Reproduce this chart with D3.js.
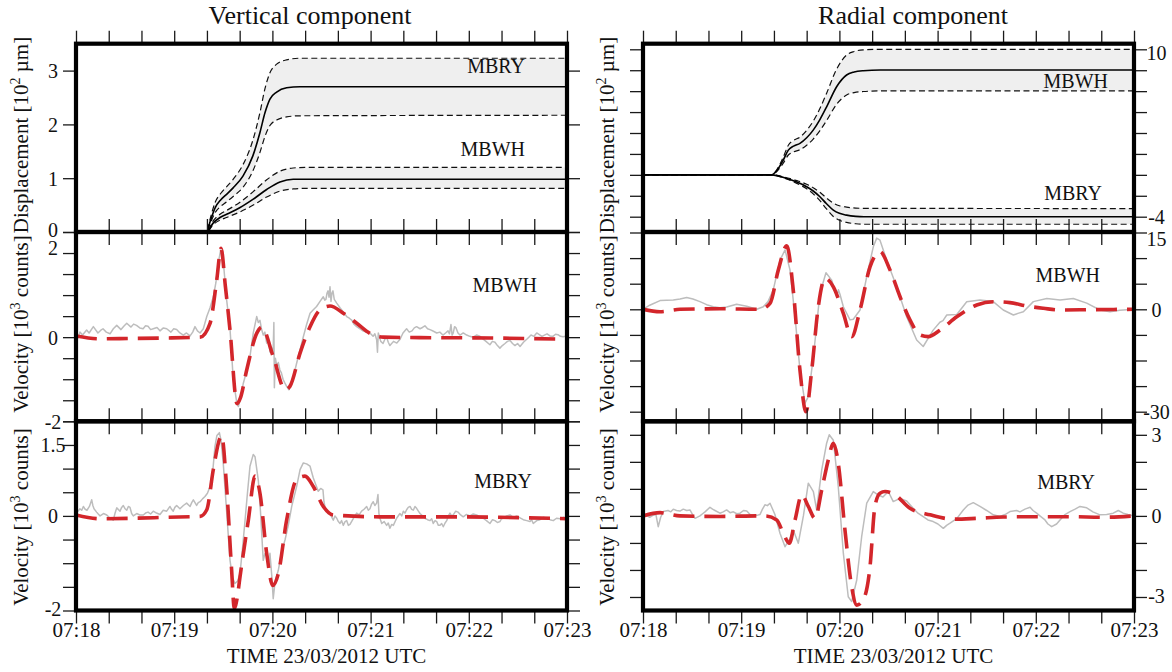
<!DOCTYPE html>
<html>
<head>
<meta charset="utf-8">
<script src="https://cdn.jsdelivr.net/npm/d3@7"></script>
<style>
  html, body { margin: 0; padding: 0; background: #fff; }
  svg { display: block; }
</style>
</head>
<body>
<svg id="fig" width="1172" height="672"></svg>
<script>
// ---------- time axis: seconds after 07:18:00 UTC ----------
const timeTickSeconds = d3.range(0, 301, 20);
const timeLabelSeconds = [0, 60, 120, 180, 240, 300];
const timeLabels = ["07:18", "07:19", "07:20", "07:21", "07:22", "07:23"];
const columnTitles = ["Vertical component", "Radial component"];
const timeTitle = "TIME 23/03/2012 UTC";

// ---------- y ticks and annotations ----------
const dispZTicks = [0, 1, 2, 3];
const dispZLabels = [0, 1, 2, 3];
const velZ_MBWH_Ticks = d3.range(-2, 2.51, 0.5);
const velZ_MBWH_Labels = [-2, 0, 2];
const velZ_MBRY_Ticks = d3.range(-2, 2.01, 0.5);
const velZ_MBRY_Labels = [-2, 0, 1.5];
const dispRTicks = d3.range(-4, 10.01, 1.75);
const dispRLabels = [-4, 10];
const velR_MBWH_Ticks = [-30, -22.5, -15, -7.5, 0, 5, 10, 15];
const velR_MBWH_Labels = [-30, 0, 15];
const velR_MBRY_Ticks = [-3, -2, -1, 0, 1, 2, 3];
const velR_MBRY_Labels = [-3, 0, 3];

// ---------- displacement, vertical component [10^2 um] ----------
const dispZ_MBRY_t  = [0, 79.8, 82, 85, 88.5, 92, 96, 102, 108, 112.4, 115.5, 118.5, 122.6, 128.7, 136.8, 300];
const dispZ_MBRY    = [0, 0, 0.20, 0.45, 0.60, 0.70, 0.82, 1.04, 1.41, 1.85, 2.22, 2.47, 2.60, 2.68, 2.70, 2.70];
const dispZ_MBRY_hi = [0, 0, 0.25, 0.55, 0.72, 0.84, 0.98, 1.25, 1.70, 2.22, 2.67, 2.96, 3.12, 3.20, 3.23, 3.23];
const dispZ_MBRY_lo = [0, 0, 0.16, 0.36, 0.48, 0.56, 0.66, 0.83, 1.13, 1.48, 1.78, 1.98, 2.08, 2.14, 2.16, 2.17];

const dispZ_MBWH_t  = [0, 79.8, 83.9, 88, 92, 100, 108.3, 116.5, 124.6, 132.7, 140, 300];
const dispZ_MBWH    = [0, 0, 0.17, 0.27, 0.33, 0.45, 0.61, 0.79, 0.93, 0.98, 0.98, 0.98];
const dispZ_MBWH_hi = [0, 0, 0.21, 0.33, 0.40, 0.55, 0.75, 0.97, 1.13, 1.19, 1.20, 1.20];
const dispZ_MBWH_lo = [0, 0, 0.14, 0.22, 0.27, 0.37, 0.50, 0.65, 0.76, 0.80, 0.81, 0.81];

// ---------- displacement, radial component [10^2 um] ----------
const dispR_MBWH_t  = [0, 78.6, 82, 85.7, 88.8, 92, 95.9, 100, 104, 108, 112.2, 118.3, 124.4, 129, 134.6, 145, 300];
const dispR_MBWH    = [-0.5, -0.5, -0.10, 0.73, 1.57, 1.90, 2.13, 2.60, 3.24, 4.10, 5.19, 6.87, 7.85, 8.10, 8.21, 8.27, 8.27];
const dispR_MBWH_hi = [-0.5, -0.5, -0.02, 0.98, 1.98, 2.38, 2.66, 3.22, 3.99, 5.02, 6.33, 8.34, 9.52, 9.82, 9.95, 10.0, 10.0];
const dispR_MBWH_lo = [-0.5, -0.5, -0.18, 0.48, 1.16, 1.42, 1.60, 1.98, 2.49, 3.18, 4.05, 5.40, 6.18, 6.38, 6.47, 6.52, 6.53];

const dispR_MBRY_t  = [0, 78.6, 87.8, 94, 100, 104, 108.1, 112, 116.3, 120, 124.4, 130, 135, 300];
const dispR_MBRY    = [-0.5, -0.5, -0.80, -1.10, -1.49, -1.85, -2.33, -2.90, -3.45, -3.72, -3.87, -3.97, -4.00, -4.00];
const dispR_MBRY_hi = [-0.5, -0.5, -0.74, -0.98, -1.29, -1.58, -1.96, -2.42, -2.86, -3.08, -3.20, -3.28, -3.30, -3.32];
const dispR_MBRY_lo = [-0.5, -0.5, -0.85, -1.21, -1.67, -2.09, -2.66, -3.33, -3.98, -4.30, -4.48, -4.59, -4.63, -4.63];

// ---------- velocity, vertical component, MBWH [10^3 counts] ----------
const velZ_MBWH_syn = [[0,0.03],[14.7,-0.04],[35,-0.03],[55,-0.02],[75.8,0],[81.9,0.33],[86,1.36],[88.6,2.11],[91.3,1.2],[94.1,0.17],[98.4,-1.58],[100.4,-1.45],[104.3,-0.78],[110.4,0.09],[113.5,0.24],[120.5,-0.46],[127.8,-1.25],[130.7,-1.17],[136.9,-0.38],[143,0.25],[149.1,0.65],[155.2,0.74],[163.3,0.57],[171.5,0.33],[179.6,0.09],[187.8,0],[210,-0.01],[253,-0.02],[300,-0.05]];
const velZ_MBWH_obs = [[0,0.03],[1.2,-0.02],[2.4,0.12],[4,0.05],[6.5,0.17],[8,0.1],[10.6,0.25],[13.4,0.1],[15,0.16],[16.5,0.2],[18.5,0.12],[20.8,0.08],[22.8,0.2],[24.9,0.28],[27.5,0.18],[29.2,0.26],[31,0.33],[33.6,0.24],[35.2,0.31],[37,0.28],[39,0.22],[41,0.2],[42.5,0.27],[44,0.26],[45.6,0.18],[47.2,0.2],[49.5,0.23],[51.3,0.15],[53.4,0.22],[55.4,0.2],[58,0.12],[59.7,0.2],[61.5,0.18],[63.5,0.1],[65.6,0.05],[67.5,0.1],[69.7,0.03],[71.3,0.12],[72.7,0.25],[74.2,0.15],[75.8,0.1],[77.8,0.2],[79.9,0.49],[81.9,0.7],[83.9,0.96],[85.5,1.3],[86.9,1.76],[88.4,2.07],[90,1.8],[92,0.9],[94.1,0.2],[96.1,-1.01],[98.2,-1.55],[99.2,-1.65],[100.8,-1.4],[102.2,-1.1],[104.3,-0.8],[106.3,-0.46],[108.3,0.1],[110.4,0.49],[111.4,0.35],[112.4,0.4],[113.3,0.2],[114.4,0.05],[115.4,0.12],[116.5,-0.14],[117.6,-0.05],[118.5,-0.35],[119.5,-0.25],[120.4,-0.4],[120.9,0.35],[121.2,-1.2],[121.8,-0.5],[122.8,-0.7],[123.6,-0.6],[124.6,-0.78],[125.5,-0.85],[126.5,-1.0],[127.5,-1.08],[128.7,-1.17],[130.1,-1.25],[131,-1.15],[132,-1.1],[133.4,-0.85],[134.8,-0.62],[136.9,-0.3],[138.9,0.01],[140.9,0.3],[143,0.57],[145,0.65],[147,0.73],[149.1,0.85],[151.1,0.96],[152,0.88],[152.7,0.9],[153.4,1.05],[154,1.1],[154.6,0.95],[155.2,1.2],[155.8,0.85],[156.4,1.05],[157,1.1],[157.8,0.9],[159.3,0.81],[161.3,0.7],[163.3,0.6],[165.4,0.49],[167,0.45],[168.6,0.4],[170,0.3],[171.5,0.25],[173.5,0.2],[175.3,0.15],[177.4,0.12],[179.6,0.1],[181.5,0.02],[182.6,0.08],[183.7,-0.06],[184.2,-0.36],[184.7,0.1],[185.1,0.05],[186.2,-0.1],[187.6,-0.15],[188.7,-0.05],[189.8,0],[190.8,-0.12],[191.8,-0.2],[194,-0.1],[196,-0.14],[198,-0.05],[199.8,0.1],[202,0.2],[203.6,0.12],[205.3,0.15],[206.7,0.22],[208.1,0.25],[210.2,0.2],[211.7,0.23],[213.2,0.27],[214.8,0.2],[216.3,0.18],[218.4,0.14],[220.4,0.1],[222.3,0.12],[224.2,0.05],[225.8,0.1],[227.3,0.15],[228.2,0.08],[229.1,0.3],[229.8,0.05],[230.5,0.1],[231.3,0.25],[232.2,0.22],[233.4,0.1],[234.6,0.05],[236.6,0.1],[238.7,0.05],[240.6,0.02],[242.6,0],[244.7,0.05],[246.8,0.02],[248.6,-0.04],[250.5,-0.1],[252.9,-0.18],[254.4,-0.1],[256,-0.12],[257.5,-0.2],[259,-0.26],[260.5,-0.2],[262.1,-0.15],[263.6,-0.1],[265.2,-0.08],[266.7,-0.15],[268.2,-0.2],[269.8,-0.15],[271.3,-0.22],[273.4,-0.12],[275.4,-0.05],[276.7,0],[278,0.05],[279.8,0.02],[281.5,0.1],[283.1,0.06],[284.7,0.02],[286.2,0.05],[287.8,0.08],[289.6,0.03],[291.4,0.02],[293,0.07],[294.5,0.06],[296,0.02],[297.6,0.01],[300,0.03]];

// ---------- velocity, vertical component, MBRY [10^3 counts] ----------
const velZ_MBRY_syn = [[0,0.02],[14.7,-0.06],[34.8,-0.05],[55.4,-0.03],[75.8,-0.01],[79.9,0.13],[83.9,0.98],[88,1.65],[89,1.69],[92,0.62],[95.1,-1.15],[96.7,-1.95],[98.4,-1.75],[100.2,-1.29],[105.3,-0.09],[109.4,0.84],[112.4,0.48],[116.5,-0.79],[120.2,-1.47],[123.6,-1.22],[128.7,-0.09],[134.8,0.77],[139.9,0.84],[145,0.62],[151.1,0.2],[157.2,0.02],[185.7,-0.02],[228.5,-0.02],[259,-0.03],[300,-0.06]];
const velZ_MBRY_obs = [[0,0.07],[1.2,0.1],[2.4,0.15],[3.5,0.12],[4.5,0.2],[5.6,0.14],[6.7,0.12],[8.2,0.2],[9.6,0.34],[10.3,0.22],[11,0.15],[12.6,0.08],[13.6,0.04],[14.7,0],[16.8,0.05],[18.8,0.02],[20.8,-0.05],[22.8,-0.09],[23.8,0.05],[24.9,0.17],[26.9,0.1],[27.9,0.18],[28.9,0.22],[30,0.15],[31,0.12],[32,0.2],[33,0.18],[34,0.05],[35,0],[37.1,0.05],[39,0.02],[41.1,0.02],[42.5,0.06],[44,0.08],[45.6,0.04],[47.2,0.1],[49.2,0.06],[51.3,0.03],[53.3,0.12],[55.4,0.1],[57.4,0.2],[58.4,0.14],[59.4,0.1],[60.4,0.18],[61.5,0.22],[63.5,0.15],[65.6,0.22],[67.6,0.27],[69.7,0.2],[70.7,0.28],[71.7,0.34],[73.7,0.22],[74.7,0.28],[75.8,0.3],[77.3,0.36],[78.8,0.41],[80.3,0.48],[81.9,0.62],[83.7,1.0],[84.9,1.47],[86.1,1.7],[87.6,1.76],[88.6,1.6],[90,1.1],[92.1,0.06],[94.1,-0.94],[95.6,-1.3],[97.1,-1.43],[98.7,-1.38],[100.2,-1.22],[101.7,-0.7],[103.3,-0.09],[104.8,0.5],[106.3,1.05],[108.3,1.3],[109.4,1.25],[111.4,0.75],[112.7,0.1],[114.4,-0.94],[115.4,-0.8],[116.5,-0.85],[117.6,-1.05],[118.5,-0.79],[119.7,-1.3],[120.5,-1.75],[121.6,-1.4],[123.6,-1.15],[125.7,-0.75],[127.7,-0.51],[129.7,-0.2],[131.8,0.2],[134.8,0.62],[136.9,0.98],[138.9,1.12],[140.9,1.1],[143,1.05],[145,0.8],[148,0.52],[149.5,0.58],[150.9,0.55],[151.5,0.3],[152.1,0.2],[153,0.12],[154,0.05],[155.6,0.02],[157.2,-0.09],[158.2,0],[159.3,-0.05],[160.3,-0.12],[161.3,-0.16],[162.3,-0.1],[163.3,-0.2],[164.4,-0.12],[165.4,-0.1],[166.4,-0.2],[167.4,-0.18],[169.5,-0.05],[171.5,0.06],[173,0.02],[174.5,0.1],[176,0.14],[177.6,0.2],[178.6,0.12],[179.6,0.15],[180.6,0.25],[181.6,0.3],[182.6,0.22],[183.7,0.27],[184.5,0.45],[185.1,0.05],[185.7,-0.05],[186.8,-0.16],[188.3,-0.12],[189.8,-0.2],[190.8,-0.15],[191.8,-0.26],[192.9,-0.18],[193.9,-0.2],[195.9,-0.05],[197.9,0.05],[199,0.0],[200,0.1],[201,0.06],[202,0.13],[203,0.18],[204.1,0.2],[205.1,0.14],[206.1,0.12],[207.1,0.2],[208.1,0.16],[209.2,0.1],[210.2,0.05],[211.7,0.0],[213.2,-0.05],[214.8,-0.08],[216.3,-0.1],[217.3,-0.06],[218.3,-0.16],[219.4,-0.1],[220.4,-0.12],[221.4,-0.2],[222.4,-0.2],[223.4,-0.16],[224.4,-0.23],[225.5,-0.15],[226.5,-0.1],[227.5,0.0],[228.5,0.06],[229.5,0.0],[230.5,0.02],[232,0.1],[233.4,0.08],[235,0.02],[236.6,-0.02],[238.6,0.03],[240.7,0],[242.7,0.04],[244.8,0.02],[246.8,-0.03],[248.8,-0.05],[250.8,-0.1],[252.9,-0.16],[254.5,-0.08],[256,-0.1],[257.5,-0.14],[259,-0.12],[260,-0.06],[261.1,-0.05],[263.1,0.0],[265.2,0.02],[267.2,-0.03],[269.3,0],[271.3,-0.04],[273.3,-0.08],[275.4,-0.1],[277.4,-0.12],[278.4,-0.08],[279.4,-0.16],[281.5,-0.1],[283.5,-0.08],[285.5,-0.03],[287.6,-0.05],[289.6,-0.08],[291.6,-0.1],[293.6,-0.05],[295.7,-0.06],[297.8,-0.03],[300,-0.05]];

// ---------- velocity, radial component, MBWH [10^3 counts] ----------
const velR_MBWH_syn = [[0,0],[10.4,-0.7],[22.6,0],[47,0.1],[71.5,0],[77.6,1.17],[82.7,7.7],[87.8,12.4],[91.8,3.8],[95.9,-17.8],[99.6,-30],[103.1,-17.8],[107.1,0.5],[111.2,6.05],[116.3,4.4],[122.4,-1.2],[127.5,-8.0],[132.6,-0.2],[138.7,8.3],[144.8,11.25],[150.9,7.7],[157,2.5],[163.1,-3.1],[169.2,-7.5],[174.3,-8.0],[181.5,-6.1],[191.7,-2.2],[203.9,0.84],[214,1.48],[224.2,1.3],[234.4,0.64],[244.6,0.2],[254.8,-0.2],[273.1,-0.1],[300,0]];
const velR_MBWH_obs = [[0,0],[4.1,0.8],[10.4,1.7],[18.5,1.8],[22.6,2.0],[26.7,2.3],[30.5,2.0],[34.8,1.5],[38.9,0.9],[43,0.5],[47,0.3],[51.1,0.45],[57.2,1.0],[63.4,0.6],[69.5,0],[73.5,0.5],[76.4,1.5],[79.6,3.8],[83.7,9.6],[86.8,11.6],[89.8,7.7],[92.9,-2.2],[95.9,-17.8],[99,-27.5],[101,-25.6],[104.1,-13.9],[108.1,3.1],[111.8,7.15],[115.3,5.7],[118.3,2.5],[119.4,3.8],[120.4,2.9],[122.4,0.5],[126.5,-3.1],[128.5,-2.9],[132.6,-0.2],[136.7,6.4],[140.7,12.2],[142.8,13.9],[144.8,13.5],[148.9,9.6],[155,4.4],[161.1,-2.2],[167.2,-9.0],[171.2,-10.9],[177.3,-6.1],[181.4,-3.8],[183.3,-3.3],[185.6,-1.67],[191.7,-1.5],[197.8,1.48],[205.9,1.8],[214,1.5],[220.1,-0.2],[226.3,-1.67],[229.1,-1.2],[232.4,-0.7],[238.5,1.5],[246.7,2.1],[254.8,1.8],[262.9,2.1],[271.1,1.2],[279.2,-0.2],[285.3,-0.7],[291.4,-0.3],[300,0]];

// ---------- velocity, radial component, MBRY [10^3 counts] ----------
const velR_MBRY_syn = [[0,0],[10.4,0.12],[22.6,0],[47,-0.02],[71.5,0],[74.5,0],[81.7,-0.15],[85.7,-0.64],[89.4,-1.01],[92.9,-0.15],[97,0.78],[101,0.35],[105.1,-0.09],[109.2,0.96],[113.2,2.07],[116.3,2.69],[119.3,1.95],[123.4,-0.52],[127.5,-2.62],[130.6,-3.3],[134.6,-3.1],[138.7,-1.88],[141.7,0.35],[144.8,0.84],[147.9,0.9],[154,0.78],[163.1,0.28],[175.4,0.04],[189.6,-0.12],[203.9,-0.09],[220.1,-0.04],[240.5,-0.03],[260.9,-0.03],[281.2,-0.05],[300,0]];
const velR_MBRY_obs = [[0,0],[2,0.03],[4.1,-0.05],[6,0.02],[7.9,0.05],[9.3,-0.4],[10.8,-0.05],[12.4,0.16],[15.3,0.2],[17,0.15],[18.5,0.25],[20.5,0.2],[22.6,0.18],[24.6,0.25],[26.7,0.2],[28.7,0.22],[30.3,0.05],[31.8,-0.09],[34.8,0],[36.4,0.08],[37.9,0.15],[40.9,0.32],[42.5,0.25],[44,0.2],[47,0.1],[49,0.15],[51.1,0.22],[53.2,0.12],[55.2,0.15],[57.3,0.08],[59.3,0.1],[61.4,0.2],[63.4,0.18],[65.4,0.05],[67.4,0],[69.5,0.02],[71.5,0.05],[73,0.25],[74.5,0.41],[76,0.38],[77.6,0.47],[80.6,0.05],[83.7,-0.64],[86.8,-1.14],[89.8,-0.83],[91.8,-0.52],[94.9,-1.01],[98,0],[101,1.21],[104.1,0.9],[106.1,0.22],[109.2,1.7],[112.2,2.69],[113.8,3.0],[116.3,2.8],[119.3,1.09],[122.4,-1.38],[125.4,-2.99],[127.5,-3.17],[130.6,-2.37],[133.6,-0.77],[136.7,0.47],[140.7,0.9],[143.6,0.78],[146.6,0.7],[149.9,0.9],[152.9,0.53],[157,0.65],[161.1,0.55],[165.1,0.28],[168,0.1],[171.2,-0.03],[174.1,-0.15],[177.3,-0.21],[180.2,-0.3],[183.5,-0.46],[185.5,-0.35],[187.6,-0.27],[191.7,-0.1],[195.7,0.22],[198.6,0.4],[201.8,0.49],[205.9,0.35],[210,0.2],[214,0.04],[218.1,-0.02],[221.2,0.05],[224.2,0.16],[228.3,0.2],[230.3,0.15],[233.4,0.25],[236.5,0.32],[238.3,0.2],[240.5,0.1],[242.5,0],[245.6,-0.15],[247.4,-0.3],[249.7,-0.4],[252.7,-0.3],[254.8,-0.15],[257.8,0.05],[260.9,0.16],[264,0.25],[267,0.35],[271.1,0.3],[274.9,0.15],[279.2,0.04],[283.3,0.05],[287.3,0.1],[290.4,0.2],[293.4,0.1],[296.3,0.05],[300,0]];

// ---------- page layout ----------
const FONT = '"Liberation Serif", "Times New Roman", Times, serif';
const cols = [{ x0: 76, x1: 567 }, { x0: 643, x1: 1134 }];
const rows = [{ y0: 43.7, y1: 232 }, { y0: 232, y1: 421.3 }, { y0: 421.3, y1: 610.5 }];
const TICK = 13;
const RED = "#d3262b";

const svg = d3.select("#fig");
const defs = svg.append("defs");

function band(t, mid, hi, lo) {
  return { t, mid, hi, lo };
}

// nudge (px) for annotations that sit next to a neighbouring panel's label
const panels = [
  { c: 0, r: 0, kind: "disp", domain: [0, 3.5], range: [232, 43.7],
    ticks: dispZTicks, labels: dispZLabels, nudge: { "0": -3 },
    bands: [band(dispZ_MBRY_t, dispZ_MBRY, dispZ_MBRY_hi, dispZ_MBRY_lo),
            band(dispZ_MBWH_t, dispZ_MBWH, dispZ_MBWH_hi, dispZ_MBWH_lo)],
    names: [{ text: "MBRY", x: 525, y: 72.7 }, { text: "MBWH", x: 525, y: 156 }] },
  { c: 0, r: 1, kind: "vel", domain: [-2, 2.5], range: [421.3, 232],
    ticks: velZ_MBWH_Ticks, labels: velZ_MBWH_Labels, nudge: { "2": -6 },
    obs: velZ_MBWH_obs, syn: velZ_MBWH_syn,
    names: [{ text: "MBWH", x: 537, y: 292 }] },
  { c: 0, r: 2, kind: "vel", domain: [-2, 2], range: [610.5, 421.3],
    ticks: velZ_MBRY_Ticks, labels: velZ_MBRY_Labels, nudge: { "-2": -2 },
    obs: velZ_MBRY_obs, syn: velZ_MBRY_syn,
    names: [{ text: "MBRY", x: 532, y: 488 }] },
  { c: 1, r: 0, kind: "disp", domain: [-4, 10], range: [216.7, 49.3],
    ticks: dispRTicks, labels: dispRLabels, nudge: { "10": 3 },
    bands: [band(dispR_MBWH_t, dispR_MBWH, dispR_MBWH_hi, dispR_MBWH_lo),
            band(dispR_MBRY_t, dispR_MBRY, dispR_MBRY_hi, dispR_MBRY_lo)],
    names: [{ text: "MBWH", x: 1108, y: 88 }, { text: "MBRY", x: 1102, y: 200 }] },
  { c: 1, r: 1, kind: "vel", domain: [-30, 0, 15], range: [411.7, 309.3, 232.5],
    ticks: velR_MBWH_Ticks, labels: velR_MBWH_Labels, nudge: { "15": 6 },
    obs: velR_MBWH_obs, syn: velR_MBWH_syn,
    names: [{ text: "MBWH", x: 1100, y: 282 }] },
  { c: 1, r: 2, kind: "vel", domain: [-3.5, 3.5], range: [610.5, 421.3],
    ticks: velR_MBRY_Ticks, labels: velR_MBRY_Labels, nudge: { "-3": -1 },
    obs: velR_MBRY_obs, syn: velR_MBRY_syn,
    names: [{ text: "MBRY", x: 1095, y: 489 }] }
];

const dataLayer = svg.append("g");
const axisLayer = svg.append("g");
const frameLayer = svg.append("g");
const textLayer = svg.append("g");

function styleAxis(g, size) {
  g.select(".domain").remove();
  g.selectAll(".tick line").attr("stroke", "#1a1a1a").attr("stroke-width", 1.3);
  g.attr("font-family", FONT).attr("font-size", size || 20);
  g.selectAll(".tick text").attr("fill", "#111");
}

panels.forEach((p, i) => {
  const col = cols[p.c], row = rows[p.r];
  const x = d3.scaleLinear().domain([0, 300]).range([col.x0, col.x1]);
  const y = d3.scaleLinear().domain(p.domain).range(p.range);

  defs.append("clipPath").attr("id", "clip" + i)
    .append("rect")
    .attr("x", col.x0).attr("y", row.y0)
    .attr("width", col.x1 - col.x0).attr("height", row.y1 - row.y0);

  const g = dataLayer.append("g").attr("clip-path", `url(#clip${i})`);

  if (p.kind === "disp") {
    p.bands.forEach(b => {
      const idx = d3.range(b.t.length);
      g.append("path")
        .attr("fill", "#efefef")
        .attr("d", d3.area()
          .x(k => x(b.t[k])).y0(k => y(b.lo[k])).y1(k => y(b.hi[k]))
          .curve(d3.curveMonotoneX)(idx));
      [b.hi, b.lo].forEach(arr => {
        g.append("path")
          .attr("fill", "none").attr("stroke", "#111")
          .attr("stroke-width", 1.2).attr("stroke-dasharray", "6,3.5")
          .attr("d", d3.line().x(k => x(b.t[k])).y(k => y(arr[k]))
            .curve(d3.curveMonotoneX)(idx));
      });
      g.append("path")
        .attr("fill", "none").attr("stroke", "#000").attr("stroke-width", 1.6)
        .attr("d", d3.line().x(k => x(b.t[k])).y(k => y(b.mid[k]))
          .curve(d3.curveMonotoneX)(idx));
    });
  } else {
    g.append("path")
      .attr("fill", "none").attr("stroke", "#bdbdbd").attr("stroke-width", 1.5)
      .attr("stroke-linejoin", "round")
      .attr("d", d3.line().x(d => x(d[0])).y(d => y(d[1])).curve(d3.curveLinear)(p.obs));
    g.append("path")
      .attr("fill", "none").attr("stroke", RED).attr("stroke-width", 3.6)
      .attr("stroke-dasharray", "21,10")
      .attr("d", d3.line().x(d => x(d[0])).y(d => y(d[1])).curve(d3.curveMonotoneX)(p.syn));
  }

  // time ticks on top and bottom edges
  axisLayer.append("g").attr("transform", `translate(0,${row.y0})`)
    .call(d3.axisTop(x).tickValues(timeTickSeconds).tickSize(TICK).tickFormat(""))
    .call(styleAxis);
  const bottom = axisLayer.append("g").attr("transform", `translate(0,${row.y1})`)
    .call(d3.axisBottom(x).tickValues(timeTickSeconds).tickSize(TICK)
      .tickFormat(s => (p.r === 2 && timeLabelSeconds.includes(s))
        ? timeLabels[timeLabelSeconds.indexOf(s)] : ""))
    .call(g => styleAxis(g, 21));
  bottom.selectAll(".tick text").attr("y", 26.5).attr("dy", null);

  // value ticks on both sides, annotated on the outer side
  const fmt = v => p.labels.includes(v) ? String(v) : "";
  const shift = v => (p.nudge[String(v)] || 0);
  const left = axisLayer.append("g").attr("transform", `translate(${col.x0},0)`)
    .call(d3.axisLeft(y).tickValues(p.ticks).tickSize(TICK)
      .tickFormat(p.c === 0 ? fmt : () => ""))
    .call(styleAxis);
  left.selectAll(".tick text").attr("x", -23).attr("y", shift)
    .attr("text-anchor", "middle").attr("dy", "0.35em");
  const right = axisLayer.append("g").attr("transform", `translate(${col.x1},0)`)
    .call(d3.axisRight(y).tickValues(p.ticks).tickSize(TICK)
      .tickFormat(p.c === 1 ? fmt : () => ""))
    .call(styleAxis);
  right.selectAll(".tick text").attr("x", 22.5).attr("y", shift)
    .attr("text-anchor", "middle").attr("dy", "0.35em");

  // panel frame
  frameLayer.append("rect")
    .attr("x", col.x0).attr("y", row.y0)
    .attr("width", col.x1 - col.x0).attr("height", row.y1 - row.y0)
    .attr("fill", "none").attr("stroke", "#000").attr("stroke-width", 4.2);

  // station names
  p.names.forEach(n => {
    textLayer.append("text")
      .attr("x", n.x).attr("y", n.y)
      .attr("text-anchor", "end")
      .attr("font-family", FONT).attr("font-size", 20).attr("fill", "#111")
      .text(n.text);
  });
});

// column titles
[310, 913].forEach((cx, k) => {
  textLayer.append("text")
    .attr("x", cx).attr("y", 24)
    .attr("text-anchor", "middle")
    .attr("font-family", FONT).attr("font-size", 26).attr("fill", "#111")
    .text(columnTitles[k]);
});

// time axis titles
cols.forEach(col => {
  textLayer.append("text")
    .attr("x", (col.x0 + col.x1) / 2 + 5).attr("y", 663)
    .attr("text-anchor", "middle")
    .attr("font-family", FONT).attr("font-size", 21).attr("fill", "#111")
    .text(timeTitle);
});

// y-axis titles with superscript exponents
function yTitle(xBase, yc, word, exp, unit) {
  const t = textLayer.append("text")
    .attr("transform", `translate(${xBase},${yc}) rotate(-90)`)
    .attr("text-anchor", "middle")
    .attr("font-family", FONT).attr("font-size", 21).attr("fill", "#111");
  t.append("tspan").text(word + " [10");
  t.append("tspan").attr("font-size", 14).attr("dy", -8).text(exp);
  t.append("tspan").attr("dy", 8).text(" " + unit + "]");
}
[28, 614].forEach(xb => {
  yTitle(xb, 135, "Displacement", "2", "\u00b5m");
  yTitle(xb, 324, "Velocity", "3", "counts");
  yTitle(xb, 517, "Velocity", "3", "counts");
});
</script>
</body>
</html>
